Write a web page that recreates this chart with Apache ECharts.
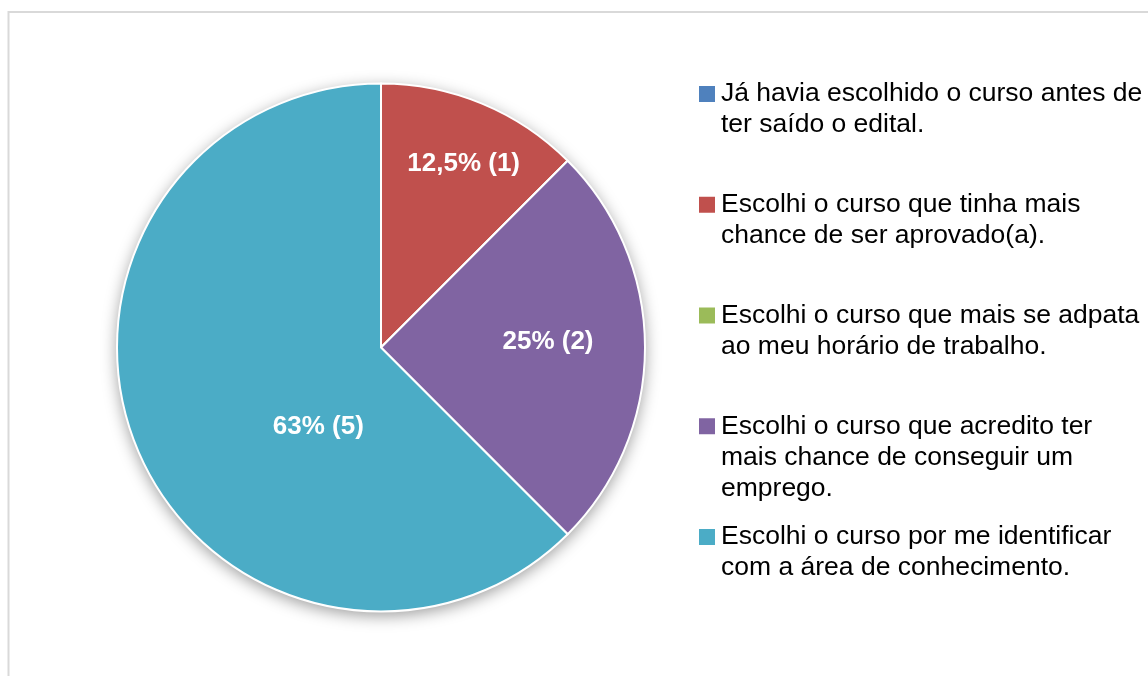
<!DOCTYPE html>
<html>
<head>
<meta charset="utf-8">
<script src="https://cdn.jsdelivr.net/npm/echarts/dist/echarts.min.js"></script>
<style>
html,body{margin:0;padding:0;background:#fff;}
#chart{width:1148px;height:676px;}
</style>
</head>
<body>
<div id="chart"></div>
<script>
// categorias (com as quebras de linha da legenda)
var categories = [
	'Já havia escolhido o curso antes de\nter saído o edital.',
	'Escolhi o curso que tinha mais\nchance de ser aprovado(a).',
	'Escolhi o curso que mais se adpata\nao meu horário de trabalho.',
	'Escolhi o curso que acredito ter\nmais chance de conseguir um\nemprego.',
	'Escolhi o curso por me identificar\ncom a área de conhecimento.'
];
var counts = [0, 1, 0, 2, 5];
var percentLabels = ['0%', '12,5%', '0%', '25%', '63%'];
var colors = ['#4F81BD', '#C0504D', '#9BBB59', '#8064A2', '#4BACC6'];

// posição dos rótulos (deslocamento em relação ao ponto padrão)
var labelOffsets = [[0, 0], [31, -59], [0, 0], [32, -6], [62, 28]];

var pieCenter = [381, 347.5];
var pieRadius = 264;
var lineH = 31;
var legendFirstY = 94;
var legendStep = 110.75;
var fontName = '"Liberation Sans", Arial, sans-serif';

var legends = [];
for (var i = 0; i < categories.length; i++) {
	(function(idx) {
		var n = categories[idx].split('\n').length;
		legends.push({
			left: 697,
			top: legendFirstY + idx * legendStep - (2 * n - 1) * lineH / 2,
			padding: 0,
			orient: 'vertical',
			icon: 'rect',
			itemWidth: 18,
			itemHeight: 18,
			selectedMode: false,
			data: [categories[idx]],
			// linhas em branco antes do texto para o marcador ficar na 1a linha
			formatter: function(name) {
				return new Array(n).join('\n') + name;
			},
			textStyle: {fontFamily: fontName, fontSize: 26.5, lineHeight: lineH, color: '#000'}
		});
	})(i);
}

var pieData = [];
for (var j = 0; j < categories.length; j++) {
	pieData.push({
		name: categories[j],
		value: counts[j],
		itemStyle: {color: colors[j]}
	});
}

var myChart = echarts.init(document.getElementById('chart'));
myChart.setOption({
	animation: false,
	backgroundColor: '#fff',
	graphic: [{
		type: 'rect',
		silent: true,
		z: -10,
		shape: {x: 8.5, y: 12, width: 1200, height: 700},
		style: {fill: 'none', stroke: '#D9D9D9', lineWidth: 2}
	}],
	legend: legends,
	series: [
		{
			// sombra por trás da pizza
			type: 'pie',
			silent: true,
			z: 1,
			center: pieCenter,
			radius: pieRadius,
			label: {show: false},
			labelLine: {show: false},
			itemStyle: {
				color: '#fff',
				shadowBlur: 16,
				shadowOffsetY: 4,
				shadowColor: 'rgba(0,0,0,0.4)'
			},
			data: [{name: 'sombra', value: 1}]
		},
		{
			type: 'pie',
			z: 2,
			center: pieCenter,
			radius: pieRadius,
			startAngle: 90,
			clockwise: true,
			itemStyle: {borderColor: '#fff', borderWidth: 2},
			label: {
				position: 'inside',
				color: '#fff',
				fontFamily: fontName,
				fontWeight: 'bold',
				fontSize: 26,
				formatter: function(p) {
					if (!p.value) return '';
					return percentLabels[p.dataIndex] + ' (' + p.value + ')';
				}
			},
			labelLayout: function(p) {
				var o = labelOffsets[p.dataIndex];
				return {dx: o[0], dy: o[1]};
			},
			labelLine: {show: false},
			emphasis: {scale: false},
			data: pieData
		}
	]
});
</script>
</body>
</html>
